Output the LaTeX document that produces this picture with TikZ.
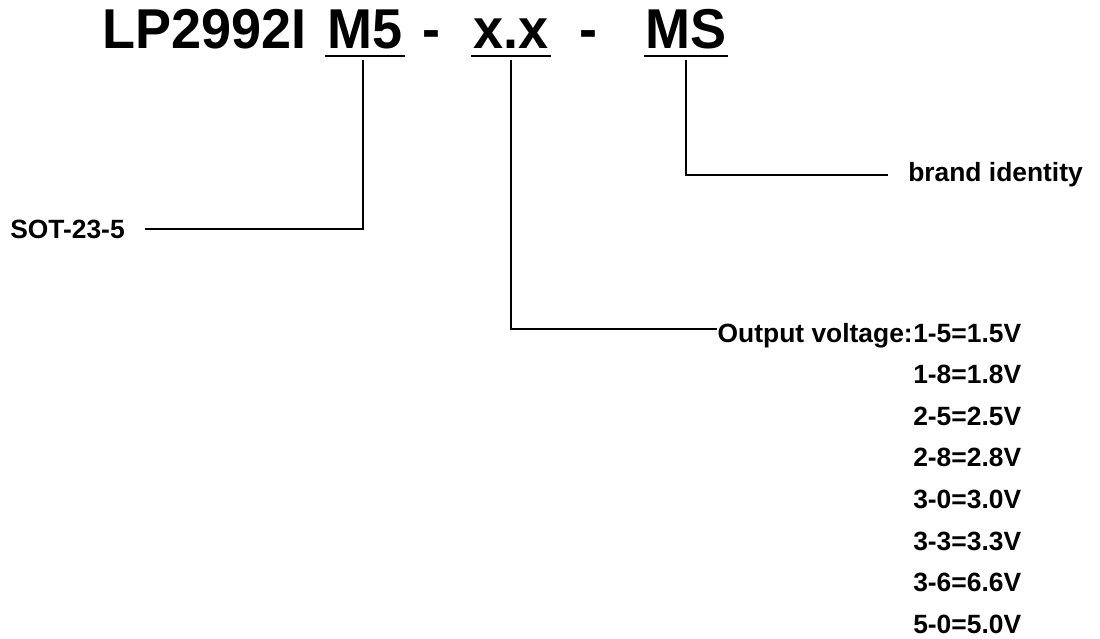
\documentclass[tikz,border=0pt]{standalone}
\usepackage{fontspec}
\setmainfont{Liberation Sans}
\begin{document}
\begin{tikzpicture}[x=0.75pt,y=-0.75pt,
  title/.style={font=\fontsize{40.5}{48}\selectfont\bfseries, inner sep=0pt, anchor=base, yscale=1.04},
  lbl/.style={font=\fontsize{19.8}{23}\selectfont\bfseries, inner sep=0pt},
  conn/.style={line width=1.5pt},
  uline/.style={line width=2.2pt}]
\useasboundingbox (0,0) rectangle (1100,639);
% title pieces
\node[title, anchor=base east] (lp) at (307,48) {LP2992I};
\node[title] (m5) at (365,48) {M5};
\node[title] (h1) at (431,48) {-};
\node[title] (xx) at (511,48) {x.x};
\node[title] (h2) at (588,48) {-};
\node[title] (ms) at (686,48) {MS};
% underlines
\draw[uline] ([xshift=-1.5pt]m5.base west |- 0,56) -- ([xshift=2pt]m5.base east |- 0,56);
\draw[uline] ([xshift=-2pt]xx.base west |- 0,56) -- ([xshift=2pt]xx.base east |- 0,56);
\draw[uline] ([xshift=-1pt]ms.base west |- 0,56) -- ([xshift=1pt]ms.base east |- 0,56);
% labels
\node[lbl, anchor=west] (sot) at (10,229) {SOT-23-5};
\node[lbl, anchor=west] (brand) at (908,175) {brand identity};
\node[lbl, anchor=base east] (ov) at (913,342) {Output voltage:};
\node[lbl, anchor=base west] (v1) at (913,342) {1-5=1.5V};
\node[lbl, anchor=base west] (v2) at (913,383.6) {1-8=1.8V};
\node[lbl, anchor=base west] (v3) at (913,425.2) {2-5=2.5V};
\node[lbl, anchor=base west] (v4) at (913,466.8) {2-8=2.8V};
\node[lbl, anchor=base west] (v5) at (913,508.4) {3-0=3.0V};
\node[lbl, anchor=base west] (v6) at (913,550) {3-3=3.3V};
\node[lbl, anchor=base west] (v7) at (913,591.6) {3-6=6.6V};
\node[lbl, anchor=base west] (v8) at (913,633.2) {5-0=5.0V};
% connector points
\coordinate (m5top) at (363,60);
\coordinate (xxtop) at (511,60);
\coordinate (mstop) at (686,60);
\coordinate (sotend) at (145,229);
\coordinate (brandend) at (888,175);
\coordinate (ovend) at ([xshift=-0.5pt]ov.west |- 0,329);
% connectors
\draw[conn] (m5top) |- (sotend);
\draw[conn] (xxtop) |- (ovend);
\draw[conn] (mstop) |- (brandend);
\end{tikzpicture}
\end{document}
